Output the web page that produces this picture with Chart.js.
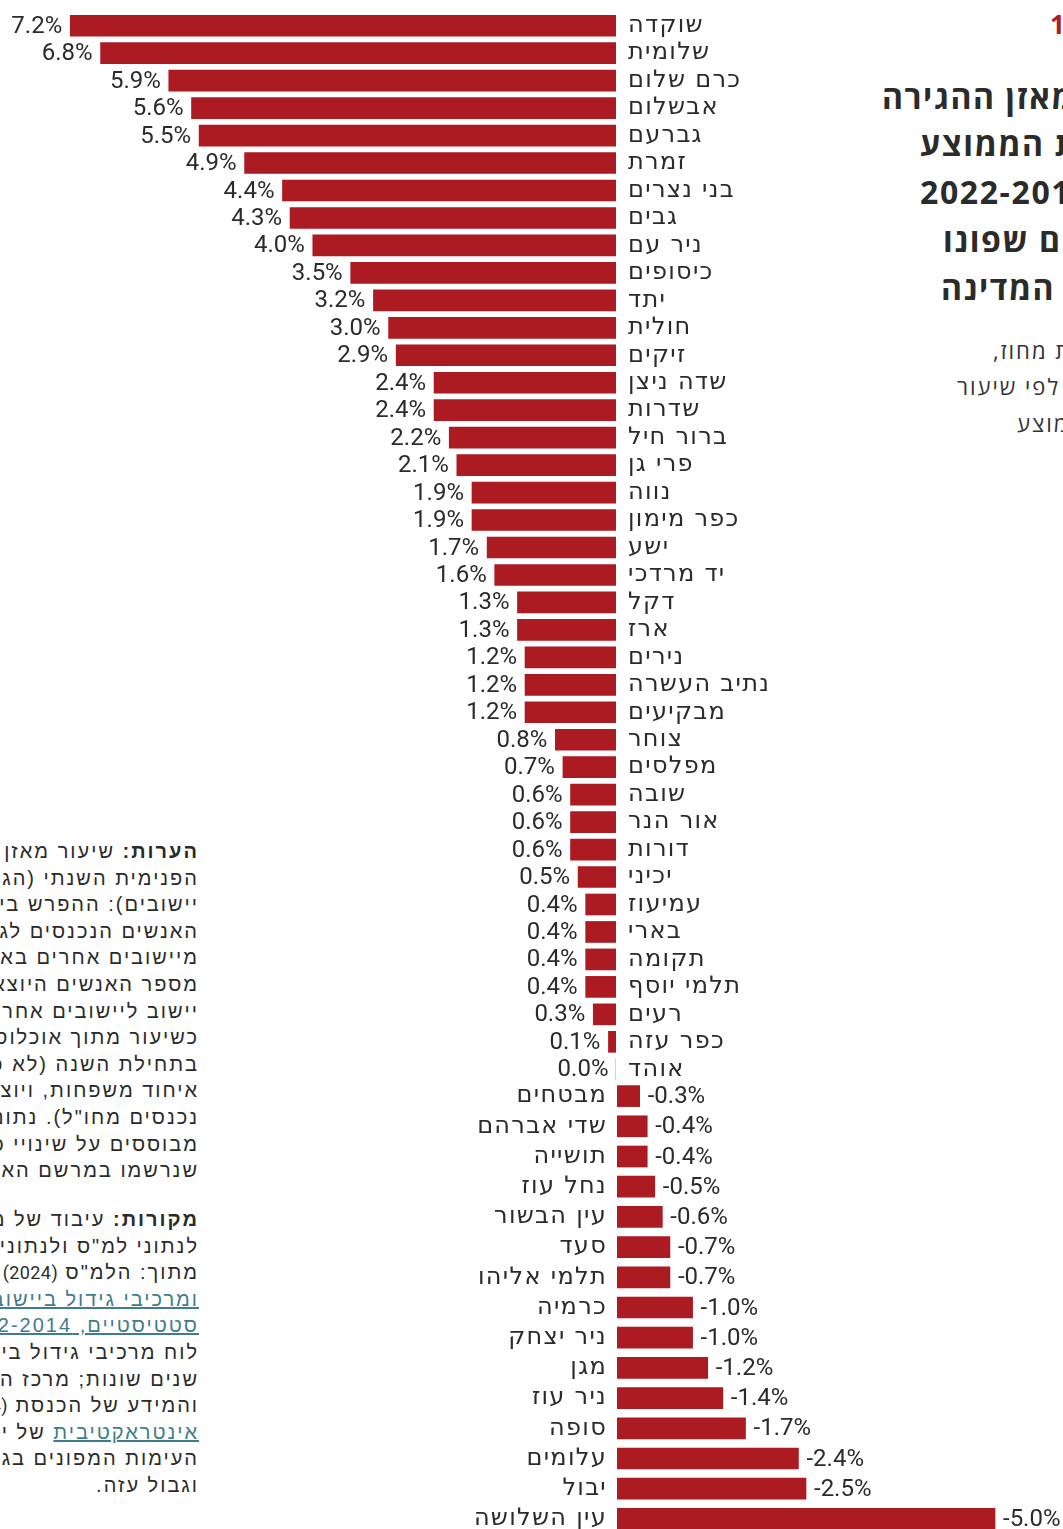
<!DOCTYPE html>
<html lang="he">
<head>
<meta charset="utf-8">
<title>מאזן ההגירה הפנימית</title>
<script src="https://cdn.jsdelivr.net/npm/chart.js"></script>
<style>
  html, body { margin: 0; padding: 0; background: #fff; }
  body { position: relative; width: 1063px; height: 1529px; overflow: hidden; color: #2b2b2b; }
  .chart-box { position: absolute; left: 0; width: 1063px; }
  #posBox { top: 12px; height: 1071px; }
  #negBox { top: 1081px; height: 453px; }
  .rtl { position: absolute; direction: rtl; white-space: nowrap; }
  .fig-no { top: 6px; left: 1050px; font: 700 26px 'Open Sans', 'DejaVu Sans', sans-serif; color: #b01c24; line-height: 36px; }
  .title { font: 700 32px 'Open Sans', 'DejaVu Sans', sans-serif; line-height: 40px; color: #2b2b2b; letter-spacing: 1.6px; }
  .sub { font: 400 22px 'Open Sans', 'DejaVu Sans', sans-serif; line-height: 30px; color: #333; letter-spacing: 2px; }
  .notes { right: 864px; width: 199px; text-align: right; font: 400 20px 'Liberation Sans', 'Open Sans', sans-serif; line-height: 26.6px; color: #2b2b2b; letter-spacing: 2px; }
  .notes div { white-space: nowrap; }
  .notes a { color: #3f7d8c; text-decoration: underline; }
  .notes b { font-weight: 700; }
  .notes .num { font: 400 18px Roboto, sans-serif; letter-spacing: 0.4px; }
</style>
</head>
<body>

<div class="rtl fig-no">תרשים 1</div>

<div class="rtl title" style="top:77px; left:882px;">שיעור מאזן ההגירה</div>
<div class="rtl title" style="top:124px; left:920px;">הפנימית השנתית הממוצע</div>
<div class="rtl title" style="top:172px; left:920px;">בשנים 2022-2014</div>
<div class="rtl title" style="top:220px; left:943px;">ביישובים שפונו</div>
<div class="rtl title" style="top:268px; left:941px;">על ידי המדינה</div>

<div class="rtl sub" style="top:335px; left:993px;">יישובים לפי נפת מחוז,</div>
<div class="rtl sub" style="top:371px; left:957px;">ממוינים לפי שיעור</div>
<div class="rtl sub" style="top:408px; left:1017px;">המאזן הממוצע</div>

<div class="rtl notes" style="top:838px;">
  <div><b>הערות:</b> שיעור מאזן ההגירה</div>
  <div>הפנימית השנתי (הגירה בין</div>
  <div>יישובים): ההפרש בין מספר</div>
  <div>האנשים הנכנסים לגור ביישוב</div>
  <div>מיישובים אחרים בארץ לבין</div>
  <div>מספר האנשים היוצאים מאותו</div>
  <div>יישוב ליישובים אחרים, מחושב</div>
  <div>כשיעור מתוך אוכלוסיית היישוב</div>
  <div>בתחילת השנה (לא כולל תנועות</div>
  <div>איחוד משפחות, ויוצאים או</div>
  <div>נכנסים מחו"ל). נתוני ההגירה</div>
  <div>מבוססים על שינויי כתובת</div>
  <div>שנרשמו במרשם האוכלוסין.</div>
</div>

<div class="rtl notes" style="top:1206px;">
  <div><b>מקורות:</b> עיבוד של מרכז טאוב</div>
  <div>לנתוני למ"ס ולנתוני משרד הפנים</div>
  <div>מתוך: הלמ"ס <span class="num">(2024)</span> מאזן הגירה</div>
  <div><a>ומרכיבי גידול ביישובים, נתונים</a></div>
  <div><a>סטטיסטיים, 2022-2014</a></div>
  <div>לוח מרכיבי גידול ביישובים,</div>
  <div>שנים שונות; מרכז המחקר</div>
  <div>והמידע של הכנסת <span class="num">(2024)</span> מפה</div>
  <div><a>אינטראקטיבית</a> של יישובי קו</div>
  <div>העימות המפונים בגבול הצפון</div>
  <div>וגבול עזה.</div>
</div>

<div class="chart-box" id="posBox"><canvas id="posChart"></canvas></div>
<div class="chart-box" id="negBox"><canvas id="negChart"></canvas></div>

<script>
// 양수 (מאזן חיובי) 데이터
const posNames = ['שוקדה', 'שלומית', 'כרם שלום', 'אבשלום', 'גברעם', 'זמרת', 'בני נצרים', 'גבים', 'ניר עם',
  'כיסופים', 'יתד', 'חולית', 'זיקים', 'שדה ניצן', 'שדרות', 'ברור חיל', 'פרי גן', 'נווה', 'כפר מימון', 'ישע',
  'יד מרדכי', 'דקל', 'ארז', 'נירים', 'נתיב העשרה', 'מבקיעים', 'צוחר', 'מפלסים', 'שובה', 'אור הנר', 'דורות',
  'יכיני', 'עמיעוז', 'בארי', 'תקומה', 'תלמי יוסף', 'רעים', 'כפר עזה', 'אוהד'];
const posValues = [7.2, 6.8, 5.9, 5.6, 5.5, 4.9, 4.4, 4.3, 4.0, 3.5, 3.2, 3.0, 2.9, 2.4, 2.4, 2.2, 2.1, 1.9, 1.9,
  1.7, 1.6, 1.3, 1.3, 1.2, 1.2, 1.2, 0.8, 0.7, 0.6, 0.6, 0.6, 0.5, 0.4, 0.4, 0.4, 0.4, 0.3, 0.1, 0.0];

// 음수 데이터
const negNames = ['מבטחים', 'שדי אברהם', 'תושייה', 'נחל עוז', 'עין הבשור', 'סעד', 'תלמי אליהו', 'כרמיה',
  'ניר יצחק', 'מגן', 'ניר עוז', 'סופה', 'עלומים', 'יבול', 'עין השלושה'];
const negValues = [-0.3, -0.4, -0.4, -0.5, -0.6, -0.7, -0.7, -1.0, -1.0, -1.2, -1.4, -1.7, -2.4, -2.5, -5.0];

const barRed = '#ac1a22';
const zeroPink = '#ebbabd';
const textColor = '#2b2b2b';
const zeroX = 616;

// 이름 라벨 자간
const labelSpacing = {
  id: 'labelSpacing',
  beforeDraw(chart) {
    chart.ctx.letterSpacing = '1.3px';
  }
};

// 막대 끝 값 라벨
const valueLabels = {
  id: 'valueLabels',
  afterDatasetsDraw(chart, args, opts) {
    const { ctx } = chart;
    const values = chart.data.datasets[0].data;
    ctx.save();
    ctx.letterSpacing = '0px';
    ctx.font = '24px Roboto';
    ctx.fillStyle = textColor;
    ctx.direction = 'ltr';
    ctx.textBaseline = 'middle';
    ctx.textAlign = opts.toLeft ? 'right' : 'left';
    chart.getDatasetMeta(0).data.forEach((bar, i) => {
      const x = opts.toLeft ? bar.x - opts.gap : bar.x + opts.gap;
      ctx.fillText(values[i].toFixed(1) + '%', x, bar.y + 1);
    });
    ctx.restore();
  }
};

const makeChart = (id, names, values, toLeft) => new Chart(document.getElementById(id), {
  type: 'bar',
  data: {
    labels: names,
    datasets: [{
      data: values,
      backgroundColor: c => (c.raw === 0 ? zeroPink : barRed),
      barThickness: 21,
      minBarLength: 1
    }]
  },
  options: {
    indexAxis: 'y',
    responsive: true,
    maintainAspectRatio: false,
    animation: false,
    layout: { padding: 0 },
    plugins: {
      legend: { display: false },
      tooltip: { enabled: false },
      valueLabels: { toLeft, gap: 8 }
    },
    scales: {
      x: toLeft
        ? { display: false, reverse: true, min: 0, max: zeroX / 75.8 }
        : { display: false, reverse: true, min: -(1063 - zeroX - 1) / 75.6, max: 0 },
      y: {
        position: toLeft ? 'right' : 'left',
        grid: { display: false, drawTicks: false },
        border: { display: false },
        ticks: {
          autoSkip: false,
          color: textColor,
          padding: toLeft ? 12 : 10,
          font: { family: "'DejaVu Sans'", size: 24 }
        },
        afterFit: s => {
          s.width = toLeft ? 1063 - zeroX : zeroX + 1;
          s.paddingTop = 0;
          s.paddingBottom = 0;
        }
      }
    }
  },
  plugins: [labelSpacing, valueLabels]
});

makeChart('posChart', posNames, posValues, true);
makeChart('negChart', negNames, negValues, false);
</script>
</body>
</html>
